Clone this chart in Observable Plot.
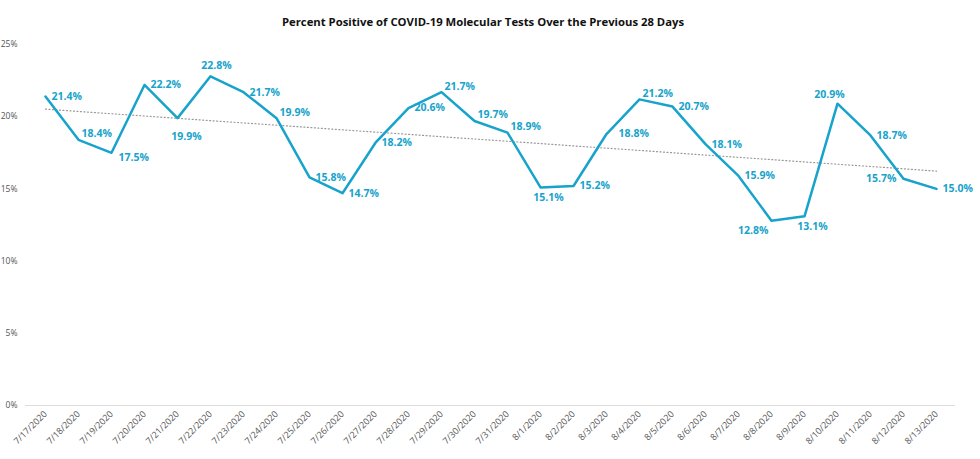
<!DOCTYPE html>
<html><head><meta charset="utf-8">
<script src="https://cdn.jsdelivr.net/npm/d3@7"></script>
<script src="https://cdn.jsdelivr.net/npm/@observablehq/plot@0.6"></script>
<style>
body{margin:0;background:#fff;font-family:"Open Sans",sans-serif}
#title{height:32px;box-sizing:border-box;padding-top:14px;padding-right:14px;text-align:center;font-weight:bold;font-size:11.3px;line-height:16px;color:#111}
</style></head><body>
<div id="title">Percent Positive of COVID-19 Molecular Tests Over the Previous 28 Days</div>
<div id="chart"></div>
<script>
const dates = ["7/17/2020","7/18/2020","7/19/2020","7/20/2020","7/21/2020","7/22/2020","7/23/2020","7/24/2020","7/25/2020","7/26/2020","7/27/2020","7/28/2020","7/29/2020","7/30/2020","7/31/2020","8/1/2020","8/2/2020","8/3/2020","8/4/2020","8/5/2020","8/6/2020","8/7/2020","8/8/2020","8/9/2020","8/10/2020","8/11/2020","8/12/2020","8/13/2020"];
const values = [21.4,18.4,17.5,22.2,19.9,22.8,21.7,19.9,15.8,14.7,18.2,20.6,21.7,19.7,18.9,15.1,15.2,18.8,21.2,20.7,18.1,15.9,12.8,13.1,20.9,18.7,15.7,15.0];
const labelPlacement = ["r","ru","rd","r","b2","a","r","ru","r","r","r","r","ru","ru","ru","b","r","r2","ru","r","r","r","lb","b","al","r","l","r"];
const yTicks = [0,5,10,15,20,25];

const placements = {
  r:  {textAnchor:"start",  dx:6,  dy:0},
  r2: {textAnchor:"start",  dx:12, dy:0},
  ru: {textAnchor:"start",  dx:3,  dy:-6},
  rd: {textAnchor:"start",  dx:7,  dy:5},
  b:  {textAnchor:"middle", dx:8,  dy:10},
  b2: {textAnchor:"middle", dx:9,  dy:18},
  a:  {textAnchor:"middle", dx:6,  dy:-11},
  al: {textAnchor:"middle", dx:-8, dy:-9},
  lb: {textAnchor:"end",    dx:-3, dy:10},
  l:  {textAnchor:"end",    dx:-7, dy:0}
};

const data = dates.map((d, i) => ({date: d, value: values[i], place: labelPlacement[i], idx: i}));

// least-squares trend line
const n = values.length;
const xs = d3.range(n);
const mx = d3.mean(xs), my = d3.mean(values);
const slope = d3.sum(xs, (x, i) => (x - mx) * (values[i] - my)) / d3.sum(xs, x => (x - mx) ** 2);
const intercept = my - slope * mx;
const trend = [{date: dates[0], value: intercept}, {date: dates[n - 1], value: intercept + slope * (n - 1)}];

const lineColor = "#17A3CB";

const labelMarks = Object.entries(placements).map(([code, p]) =>
  Plot.text(data.filter(d => d.place === code), {
    x: "date", y: "value", text: d => d.value.toFixed(1) + "%",
    fill: lineColor, fontWeight: "bold", fontSize: 10.5,
    textAnchor: p.textAnchor, dx: p.dx, dy: p.dy
  })
);

const chart = Plot.plot({
  width: 980,
  height: 427,
  marginLeft: 25,
  marginRight: 25,
  marginTop: 12,
  marginBottom: 54,
  style: {fontFamily: "'Open Sans', sans-serif", background: "#fff"},
  x: {type: "point", domain: dates, padding: 0.5},
  y: {domain: [0, 25]},
  marks: [
    Plot.axisY({ticks: yTicks, tickSize: 0, tickPadding: 8, tickFormat: d => d + "%", fontSize: 8.5, fill: "#555", label: null}),
    Plot.axisX({tickRotate: -45, tickSize: 0, tickPadding: 7, fontSize: 9, fill: "#555", label: null}),
    Plot.ruleY([0], {stroke: "#ddd", strokeWidth: 1}),
    Plot.lineY(trend, {x: "date", y: "value", stroke: "#999", strokeWidth: 1.2, strokeDasharray: "1,2.5"}),
    Plot.lineY(data, {x: "date", y: "value", stroke: lineColor, strokeWidth: 2.5}),
    ...labelMarks
  ]
});
document.getElementById("chart").appendChild(chart);
</script>
</body></html>
